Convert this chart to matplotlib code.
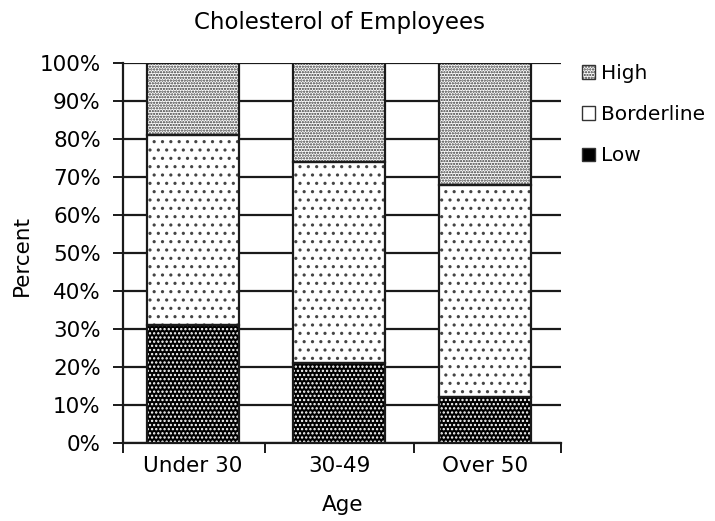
import matplotlib.pyplot as plt
import numpy as np
from matplotlib.patches import Patch

ages = ['Under 30', '30-49', 'Over 50']
low = [31, 21, 12]
borderline = [50, 53, 56]
high = [19, 26, 32]

plt.rcParams['font.family'] = ['DejaVu Sans']
plt.rcParams['hatch.linewidth'] = 1.1

W, H = 715, 521
fig = plt.figure(figsize=(W / 100, H / 100), dpi=100)
ax = fig.add_axes([123 / W, 1 - 443 / H, 438 / W, 380 / H])

x = np.arange(len(ages))
w = 0.63
bord_b = np.array(low)
high_b = bord_b + np.array(borderline)
edge = '#1a1a1a'

# low: black with white dots
ax.bar(x, low, w, color='black', edgecolor='white', hatch='....', lw=0, zorder=3)
ax.bar(x, low, w, fill=False, edgecolor=edge, lw=1.6, zorder=4)
# borderline: sparse dots
ax.bar(x, borderline, w, bottom=bord_b, color='white', edgecolor='#444444', hatch='..', lw=0, zorder=3)
ax.bar(x, borderline, w, bottom=bord_b, fill=False, edgecolor=edge, lw=1.6, zorder=4)
# high: dense dots
ax.bar(x, high, w, bottom=high_b, color='white', edgecolor='#333333', hatch='......', lw=0, zorder=3)
ax.bar(x, high, w, bottom=high_b, fill=False, edgecolor=edge, lw=1.6, zorder=4)

ax.set_xlim(-0.48, 2.52)
ax.set_ylim(0, 100)
ax.set_yticks(range(0, 101, 10))
ax.set_yticklabels([f'{v}%' for v in range(0, 101, 10)], fontsize=15.5)
ax.yaxis.grid(True, color=edge, lw=1.6, zorder=1)
ax.set_xticks(x)
ax.set_xticklabels(ages, fontsize=15.5)
ax.set_xticks([-0.48, 0.49, 1.51, 2.52], minor=True)
ax.tick_params(axis='x', which='major', length=0, pad=9)
ax.tick_params(axis='x', which='minor', length=7, width=1.4, color=edge)
ax.tick_params(axis='y', length=7, width=1.4, color=edge, pad=9)
for s in ['top', 'right']:
    ax.spines[s].set_visible(False)
for s in ['left', 'bottom']:
    ax.spines[s].set_linewidth(1.6)
    ax.spines[s].set_color(edge)

fig.text(343 / W, 1 - 505 / H, 'Age', ha='center', va='center', fontsize=15.5)
fig.text(22 / W, 1 - 255 / H, 'Percent', ha='center', va='center', rotation=90, fontsize=15.5)
fig.text(340 / W, 1 - 22 / H, 'Cholesterol of Employees', ha='center', va='center', fontsize=16.5)

handles = [
    Patch(facecolor='white', edgecolor='#333333', hatch='......', label='High'),
    Patch(facecolor='white', edgecolor='#333333', label='Borderline'),
    Patch(facecolor='black', edgecolor='#333333', label='Low'),
]
fig.legend(handles=handles, loc='upper left', bbox_to_anchor=(574 / W, 1 - 56 / H), frameon=False,
           fontsize=14.5, handlelength=0.65, handleheight=0.65, handletextpad=0.3, labelspacing=1.1,
           borderaxespad=0)

fig.savefig('out.png', dpi=100)
